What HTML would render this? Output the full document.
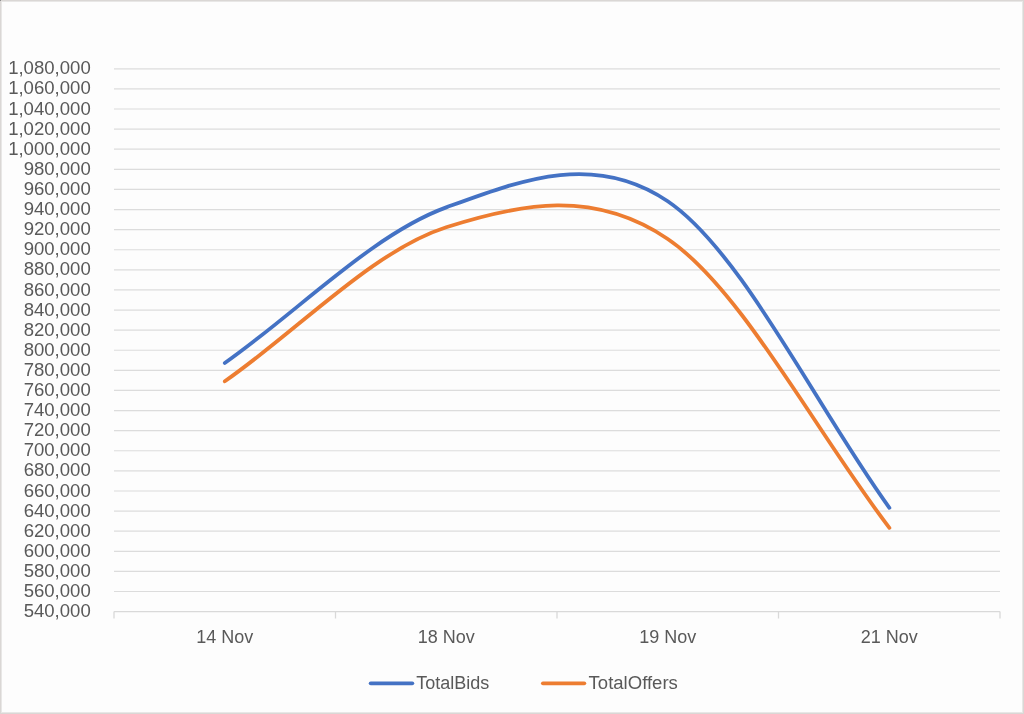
<!DOCTYPE html>
<html><head><meta charset="utf-8"><style>
html,body{margin:0;padding:0;background:#fff;}
body{width:1024px;height:714px;overflow:hidden;position:relative;}
svg{position:absolute;left:0;top:0;display:block;will-change:transform;}
text{font-family:"Liberation Sans",sans-serif;fill:#595959;}
</style></head><body>
<svg width="1024" height="714" viewBox="0 0 1024 714">
<rect x="0" y="0" width="1024" height="714" fill="#fdfdfd"/>
<rect x="1.5" y="1.5" width="1021" height="711" fill="none" stroke="#e8e7e6" stroke-width="1"/>
<rect x="0.5" y="0.5" width="1023" height="713" fill="none" stroke="#dad7d5" stroke-width="1"/>
<rect x="0" y="0" width="1" height="1" fill="#8e8f8f"/>
<g stroke="#dcdcdc" stroke-width="1.2" fill="none">
<line x1="114" y1="591.50" x2="1000" y2="591.50"/>
<line x1="114" y1="571.39" x2="1000" y2="571.39"/>
<line x1="114" y1="551.29" x2="1000" y2="551.29"/>
<line x1="114" y1="531.19" x2="1000" y2="531.19"/>
<line x1="114" y1="511.08" x2="1000" y2="511.08"/>
<line x1="114" y1="490.98" x2="1000" y2="490.98"/>
<line x1="114" y1="470.87" x2="1000" y2="470.87"/>
<line x1="114" y1="450.77" x2="1000" y2="450.77"/>
<line x1="114" y1="430.67" x2="1000" y2="430.67"/>
<line x1="114" y1="410.56" x2="1000" y2="410.56"/>
<line x1="114" y1="390.46" x2="1000" y2="390.46"/>
<line x1="114" y1="370.36" x2="1000" y2="370.36"/>
<line x1="114" y1="350.25" x2="1000" y2="350.25"/>
<line x1="114" y1="330.15" x2="1000" y2="330.15"/>
<line x1="114" y1="310.04" x2="1000" y2="310.04"/>
<line x1="114" y1="289.94" x2="1000" y2="289.94"/>
<line x1="114" y1="269.84" x2="1000" y2="269.84"/>
<line x1="114" y1="249.73" x2="1000" y2="249.73"/>
<line x1="114" y1="229.63" x2="1000" y2="229.63"/>
<line x1="114" y1="209.53" x2="1000" y2="209.53"/>
<line x1="114" y1="189.42" x2="1000" y2="189.42"/>
<line x1="114" y1="169.32" x2="1000" y2="169.32"/>
<line x1="114" y1="149.21" x2="1000" y2="149.21"/>
<line x1="114" y1="129.11" x2="1000" y2="129.11"/>
<line x1="114" y1="109.01" x2="1000" y2="109.01"/>
<line x1="114" y1="88.90" x2="1000" y2="88.90"/>
<line x1="114" y1="68.80" x2="1000" y2="68.80"/>
</g>
<g stroke="#d9d9d9" stroke-width="1.3" fill="none">
<line x1="114" y1="611.60" x2="1000" y2="611.60"/>
<line x1="114.00" y1="611.60" x2="114.00" y2="618.5"/><line x1="335.50" y1="611.60" x2="335.50" y2="618.5"/><line x1="557.00" y1="611.60" x2="557.00" y2="618.5"/><line x1="778.50" y1="611.60" x2="778.50" y2="618.5"/><line x1="1000.00" y1="611.60" x2="1000.00" y2="618.5"/>
</g>
<g font-size="18" text-anchor="end" transform="translate(90.8,0) scale(1.033,1) translate(-90.8,0)">
<text x="90.8" y="617.20">540,000</text>
<text x="90.8" y="597.10">560,000</text>
<text x="90.8" y="576.99">580,000</text>
<text x="90.8" y="556.89">600,000</text>
<text x="90.8" y="536.79">620,000</text>
<text x="90.8" y="516.68">640,000</text>
<text x="90.8" y="496.58">660,000</text>
<text x="90.8" y="476.47">680,000</text>
<text x="90.8" y="456.37">700,000</text>
<text x="90.8" y="436.27">720,000</text>
<text x="90.8" y="416.16">740,000</text>
<text x="90.8" y="396.06">760,000</text>
<text x="90.8" y="375.96">780,000</text>
<text x="90.8" y="355.85">800,000</text>
<text x="90.8" y="335.75">820,000</text>
<text x="90.8" y="315.64">840,000</text>
<text x="90.8" y="295.54">860,000</text>
<text x="90.8" y="275.44">880,000</text>
<text x="90.8" y="255.33">900,000</text>
<text x="90.8" y="235.23">920,000</text>
<text x="90.8" y="215.13">940,000</text>
<text x="90.8" y="195.02">960,000</text>
<text x="90.8" y="174.92">980,000</text>
<text x="90.8" y="154.81">1,000,000</text>
<text x="90.8" y="134.71">1,020,000</text>
<text x="90.8" y="114.61">1,040,000</text>
<text x="90.8" y="94.50">1,060,000</text>
<text x="90.8" y="74.40">1,080,000</text>
</g>
<g font-size="18" text-anchor="middle">
<text x="224.75" y="643">14 Nov</text><text x="446.25" y="643">18 Nov</text><text x="667.75" y="643">19 Nov</text><text x="889.25" y="643">21 Nov</text>
</g>
<g fill="none" stroke-width="3.8" stroke-linecap="round" stroke-linejoin="round">
<path d="M224.80,363.00 C298.62,311.13 372.43,234.37 446.25,207.40 C520.08,180.43 593.89,151.13 667.75,201.20 C741.61,251.27 815.52,405.60 889.40,507.80" stroke="#4472c4"/>
<path d="M224.80,381.30 C298.62,329.97 372.43,251.02 446.25,227.30 C520.08,203.58 593.89,188.92 667.75,239.00 C741.61,289.08 815.52,431.53 889.40,527.80" stroke="#ed7d31"/>
</g>
<g stroke-width="6" stroke-linecap="round">
<line x1="370.7" y1="683.3" x2="412.3" y2="683.3" stroke="#4472c4" stroke-width="3.8"/>
<line x1="542.9" y1="683.3" x2="584.3" y2="683.3" stroke="#ed7d31" stroke-width="3.8"/>
</g>
<g font-size="18">
<text x="416.3" y="689">TotalBids</text>
<text x="588.6" y="689" transform="translate(588.6,0) scale(1.03,1) translate(-588.6,0)">TotalOffers</text>
</g>
</svg>
</body></html>
